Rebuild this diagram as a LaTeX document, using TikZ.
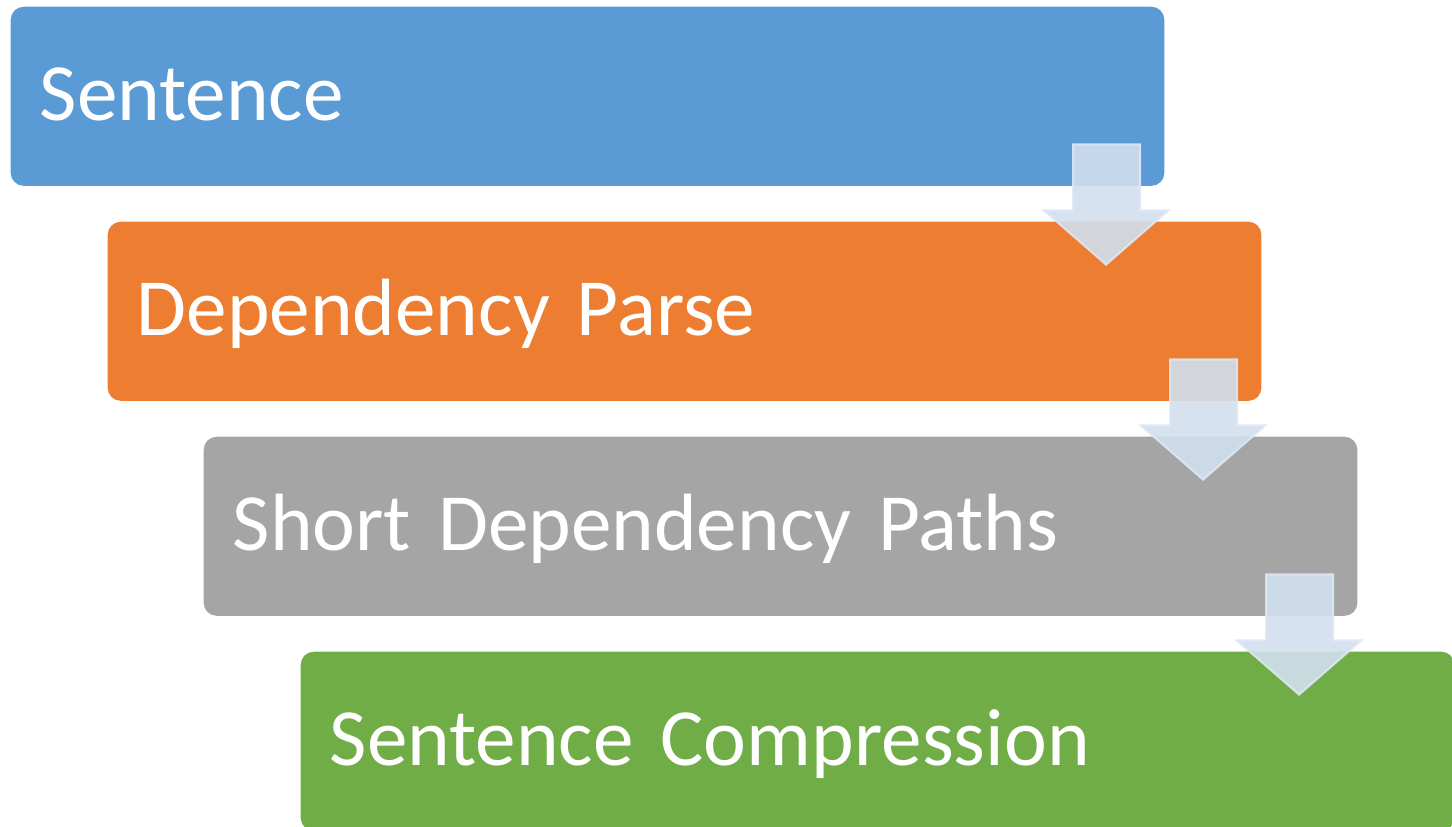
\documentclass[tikz,border=0pt]{standalone}
\usepackage{fontspec}
\setmainfont{Carlito}
\usetikzlibrary{positioning}

\definecolor{stageblue}{RGB}{91,155,213}
\definecolor{stageorange}{RGB}{237,125,49}
\definecolor{stagegray}{RGB}{165,165,165}
\definecolor{stagegreen}{RGB}{112,173,71}
\definecolor{arrowfill}{RGB}{209,223,238}
\definecolor{arrowline}{RGB}{222,231,244}

\tikzset{
  stagebox/.style={rectangle, rounded corners=0.13cm, anchor=north west,
    minimum width=11.53cm, minimum height=1.79cm, text width=10.95cm,
    inner xsep=0.29cm, inner ysep=0pt, align=left, text=white,
    font=\fontsize{23.1}{28}\selectfont, text height=0.6cm, text depth=0.11cm},
  stagearrow/.style={fill=arrowfill, fill opacity=0.9, draw=arrowline,
    draw opacity=0.9, line width=0.6pt}
}

\begin{document}
\begin{tikzpicture}[x=0.01cm, y=-0.01cm]

\useasboundingbox (0,0) rectangle (1452,826);
\clip (0,0) rectangle (1452,826);

\node[stagebox, fill=stageblue]   (sent)  at (10,6)    {Sentence};
\node[stagebox, fill=stageorange] (parse) at (107,221) {Dependency Parse};
\node[stagebox, fill=stagegray]   (paths) at (203,436) {Short Dependency Paths};
\node[stagebox, fill=stagegreen]  (compr) at (300,651) {Sentence Compression};

% block arrows between the stages
\foreach \blk in {sent, parse, paths} {
  \begin{scope}[shift={(\blk.south east)}]
    \draw[stagearrow] (-92,-42) -- (-25,-42) -- (-25,24) -- (3,24)
      -- (-59,78) -- (-121,24) -- (-92,24) -- cycle;
  \end{scope}
}

\end{tikzpicture}
\end{document}
